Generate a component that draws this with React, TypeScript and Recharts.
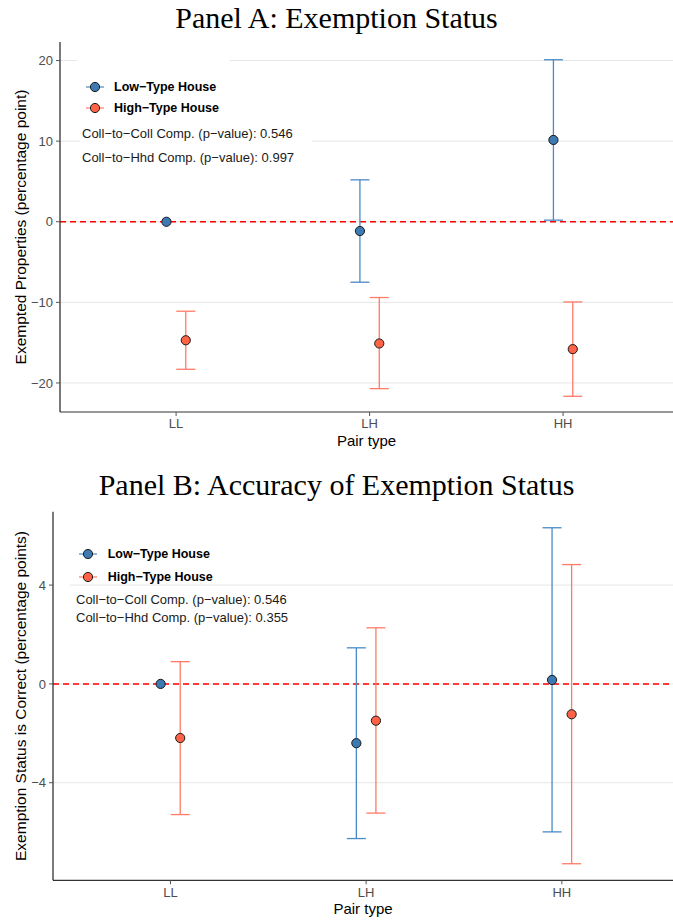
import React from "react";
import {
  ScatterChart,
  Scatter,
  ErrorBar,
  XAxis,
  YAxis,
  ReferenceLine,
} from "recharts";

const pairTypes = ["LL", "LH", "HH"];
const seriesNames = ["Low\u2212Type House", "High\u2212Type House"];

// Panel A: exempted properties (estimate and CI bounds)
const exemptLow = [0, -1.15, 10.15];
const exemptLowLower = [null, -7.5, 0.2];
const exemptLowUpper = [null, 5.2, 20.1];
const exemptHigh = [-14.7, -15.1, -15.8];
const exemptHighLower = [-18.3, -20.7, -21.65];
const exemptHighUpper = [-11.1, -9.4, -9.95];
const exemptTicks = [-20, -10, 0, 10, 20];
const exemptStats = [
  "Coll\u2212to\u2212Coll Comp. (p\u2212value): 0.546",
  "Coll\u2212to\u2212Hhd Comp. (p\u2212value): 0.997",
];

// Panel B: exemption status is correct
const accLow = [0, -2.4, 0.16];
const accLowLower = [null, -6.26, -5.99];
const accLowUpper = [null, 1.46, 6.32];
const accHigh = [-2.19, -1.49, -1.23];
const accHighLower = [-5.29, -5.23, -7.28];
const accHighUpper = [0.9, 2.27, 4.83];
const accTicks = [-4, 0, 4];
const accStats = [
  "Coll\u2212to\u2212Coll Comp. (p\u2212value): 0.546",
  "Coll\u2212to\u2212Hhd Comp. (p\u2212value): 0.355",
];

const FONT = '"Liberation Sans", Arial, Helvetica, sans-serif';
const LOW_FILL = "#3d79b2";
const LOW_BAR = "#4a8ac6";
const HIGH_FILL = "#ff6347";
const HIGH_BAR = "#ff7b67";
const DODGE = 0.05;

function makeRows(est, lower, upper, side) {
  return est.map((v, i) => ({
    x: i + 1 + side * DODGE,
    y: v,
    err: lower[i] == null ? null : [v - lower[i], upper[i] - v],
  }));
}

const minus = (v) => (v < 0 ? "\u2212" + Math.abs(v) : String(v));

const dot = (fill) => (p) => (
  <circle cx={p.cx} cy={p.cy} r={4.6} fill={fill} stroke="#1a1a1a" strokeWidth={1} />
);

function PanelKey({ lay, stats, top }) {
  const colors = [
    [LOW_FILL, LOW_BAR],
    [HIGH_FILL, HIGH_BAR],
  ];
  return (
    <div style={{ position: "absolute", left: 0, top, width: 673, height: 450, fontFamily: FONT, pointerEvents: "none" }}>
      {lay.boxes.map((b, i) => (
        <div key={"b" + i} style={{ position: "absolute", left: b.x, top: b.y, width: b.w, height: b.h, background: "#fff" }} />
      ))}
      {seriesNames.map((name, i) => (
        <React.Fragment key={name}>
          <svg style={{ position: "absolute", left: lay.markerX - 10, top: lay.rows[i] - 7 }} width={20} height={14}>
            <line x1={1} x2={19} y1={7} y2={7} stroke={colors[i][1]} strokeWidth={1.2} />
            <circle cx={10} cy={7} r={4.6} fill={colors[i][0]} stroke="#1a1a1a" strokeWidth={1} />
          </svg>
          <div style={{ position: "absolute", left: lay.textX, top: lay.rows[i] - 8, fontSize: 12.5, lineHeight: "16px", fontWeight: "bold", color: "#000", whiteSpace: "nowrap" }}>
            {name}
          </div>
        </React.Fragment>
      ))}
      {stats.map((s, i) => (
        <div key={s} style={{ position: "absolute", left: lay.statsX, top: lay.statsY[i] - 8, fontSize: 13, lineHeight: "16px", color: "#1a1a1a", whiteSpace: "nowrap" }}>
          {s}
        </div>
      ))}
    </div>
  );
}

function Panel({ cfg }) {
  const low = makeRows(cfg.low[0], cfg.low[1], cfg.low[2], -1);
  const high = makeRows(cfg.high[0], cfg.high[1], cfg.high[2], 1);
  return (
    <>
      <div
        style={{
          position: "absolute",
          left: 0,
          top: cfg.titleTop,
          width: 673,
          textAlign: "center",
          fontFamily: '"Liberation Serif", "Times New Roman", serif',
          fontSize: 30,
          lineHeight: "34px",
          color: "#000",
        }}
      >
        {cfg.title}
      </div>
      <div style={{ position: "absolute", left: 0, top: cfg.top }}>
        <ScatterChart
          width={673}
          height={450}
          margin={{ top: cfg.marginTop, right: 0, bottom: cfg.marginBottom, left: 0 }}
        >
          <XAxis
            type="number"
            dataKey="x"
            domain={[0.4, 3.568]}
            ticks={[1, 2, 3]}
            tickFormatter={(v) => pairTypes[v - 1]}
            allowDataOverflow
            height={36}
            tickSize={4}
            tickMargin={3}
            tick={{ fill: "#4d4d4d", fontSize: 13, fontFamily: FONT }}
            axisLine={{ stroke: "#333", strokeWidth: 1.2 }}
            tickLine={{ stroke: "#555" }}
            label={{ value: "Pair type", position: "insideBottom", offset: 2, fill: "#000", fontSize: 15, fontFamily: FONT }}
          />
          <YAxis
            type="number"
            dataKey="y"
            domain={cfg.yDomain}
            ticks={cfg.yTicks}
            allowDataOverflow
            tickFormatter={minus}
            width={cfg.axisWidth}
            tickSize={4}
            tickMargin={3}
            tick={{ fill: "#4d4d4d", fontSize: 13, fontFamily: FONT }}
            axisLine={{ stroke: "#222", strokeWidth: 1.2 }}
            tickLine={{ stroke: "#555" }}
            label={{
              value: cfg.yLabel,
              angle: -90,
              position: "insideLeft",
              offset: cfg.labelOffset,
              fill: "#000",
              fontSize: 15.5,
              fontFamily: FONT,
              style: { textAnchor: "middle" },
            }}
          />
          {cfg.yTicks.map((t) => (
            <ReferenceLine key={"g" + t} y={t} stroke="#e6e6e6" strokeWidth={1} />
          ))}
          <ReferenceLine y={0} stroke="#ff0000" strokeWidth={1.5} strokeDasharray="6 4" />
          <Scatter name={seriesNames[0]} data={low} fill={LOW_FILL} shape={dot(LOW_FILL)} isAnimationActive={false}>
            <ErrorBar dataKey="err" direction="y" width={9.5} stroke={LOW_BAR} strokeWidth={1.3} isAnimationActive={false} />
          </Scatter>
          <Scatter name={seriesNames[1]} data={high} fill={HIGH_FILL} shape={dot(HIGH_FILL)} isAnimationActive={false}>
            <ErrorBar dataKey="err" direction="y" width={9.5} stroke={HIGH_BAR} strokeWidth={1.3} isAnimationActive={false} />
          </Scatter>
        </ScatterChart>
      </div>
      <PanelKey lay={cfg.legend} stats={cfg.stats} top={cfg.top} />
    </>
  );
}

const panelA = {
  title: "Panel A: Exemption Status",
  titleTop: 1,
  top: 0,
  marginTop: 42,
  marginBottom: 2,
  axisWidth: 60,
  labelOffset: 20,
  yDomain: [-23.6, 22.3],
  yTicks: exemptTicks,
  yLabel: "Exempted Properties (percentage point)",
  low: [exemptLow, exemptLowLower, exemptLowUpper],
  high: [exemptHigh, exemptHighLower, exemptHighUpper],
  stats: exemptStats,
  legend: {
    markerX: 95,
    rows: [86.7, 108.3],
    textX: 114,
    statsX: 82,
    statsY: [134.3, 157.7],
    boxes: [
      { x: 77, y: 58, w: 153, h: 62 },
      { x: 80, y: 123, w: 232, h: 46 },
    ],
  },
};

const panelB = {
  title: "Panel B: Accuracy of Exemption Status",
  titleTop: 468,
  top: 470,
  marginTop: 41.7,
  marginBottom: 3.7,
  axisWidth: 53,
  labelOffset: 20,
  yDomain: [-7.95, 6.97],
  yTicks: accTicks,
  yLabel: "Exemption Status is Correct (percentage points)",
  low: [accLow, accLowLower, accLowUpper],
  high: [accHigh, accHighLower, accHighUpper],
  stats: accStats,
  legend: {
    markerX: 88.3,
    rows: [84, 106.7],
    textX: 107.7,
    statsX: 76,
    statsY: [130, 148.3],
    boxes: [{ x: 54, y: 111, w: 16, h: 8 }],
  },
};

export default function App() {
  return (
    <div style={{ position: "absolute", left: 0, top: 0, width: 673, height: 920, background: "#fff", overflow: "hidden" }}>
      <Panel cfg={panelA} />
      <Panel cfg={panelB} />
    </div>
  );
}
